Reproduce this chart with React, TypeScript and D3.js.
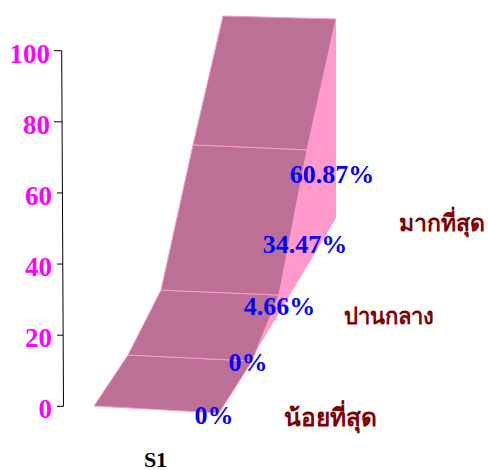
import React from "react";
import * as d3 from "d3";

const categories = ["น้อยที่สุด", "", "ปานกลาง", "", "มากที่สุด"];
const values = [0, 0, 4.66, 34.47, 60.87];
const valueLabels = ["0%", "0%", "4.66%", "34.47%", "60.87%"];
const ticks = [0, 20, 40, 60, 80, 100];
const seriesName = "S1";
const depthSteps = [0, 1, 2, 3, 4];

const W = 488, H = 470;
const FONT = "'Liberation Serif', 'Times New Roman', serif";

const y = d3.scaleLinear().domain([0, 100]).range([406.3, 50.7]);
// the axis is very slightly tilted by the 3D projection
const axisX = d3.scaleLinear().domain([0, 100]).range([63.5, 61.7]);
// perspective projection of the two floor edges, per depth step
const leftX = d3.scaleLinear().domain(depthSteps).range([94, 128, 161, 193, 223]);
const leftBase = d3.scaleLinear().domain(depthSteps).range([406, 355, 306, 260, 215]);
const rightX = d3.scaleLinear().domain(depthSteps).range([219, 252, 279, 307, 336]);
const rightBase = d3.scaleLinear().domain(depthSteps).range([413, 361, 311, 265, 218]);
const unitH = d3.scaleLinear().domain([0, 4]).range([3.55, 3.27]);

const lp = (k: number): [number, number] => [leftX(k), leftBase(k) - values[k] * unitH(k)];
const rp = (k: number): [number, number] => [rightX(k), rightBase(k) - values[k] * unitH(k)];
const line = d3.line();

const labelPos: [number, number][] = [[214, 424], [248, 371], [279.5, 315], [305, 253], [332, 183]];
const catPos: [number, number][] = [[330.5, 426], [0, 0], [389, 324], [0, 0], [441.5, 231]];
const catSize = [24.5, 0, 22, 0, 23];

export default function App() {
  const last = depthSteps[depthSteps.length - 1];
  const side: [number, number][] = [
    ...depthSteps.map(rp),
    [rightX(last), rightBase(last)],
    [rightX(0), rightBase(0)],
  ];
  return (
    <svg width={W} height={H} style={{ position: "absolute", left: 0, top: 0 }} fontFamily={FONT}>
      <path d={line(side)! + "Z"} fill="#FF99CC" />
      {depthSteps.slice(0, -1).map((k) => (
        <path
          key={k}
          d={line([lp(k), lp(k + 1), rp(k + 1), rp(k)])! + "Z"}
          fill="#BC7096"
          stroke="#FF99CC"
          strokeWidth={1}
        />
      ))}
      <line x1={axisX(100)} x2={axisX(0)} y1={y(100)} y2={y(0)} stroke="#000" strokeWidth={1} />
      {ticks.map((t) => (
        <g key={t}>
          <line x1={t >= 80 ? 54 : 57} x2={axisX(t)} y1={y(t)} y2={y(t)} stroke="#000" strokeWidth={1} />
          <text x={t >= 80 ? 50 : 52} y={y(t) + 12} textAnchor="end" fontSize={27} fontWeight="bold" fill="#FF00FF">{t}</text>
        </g>
      ))}
      {values.map((_, i) => (
        <text key={i} x={labelPos[i][0]} y={labelPos[i][1]} textAnchor="middle" fontSize={26} fontWeight="bold" fill="#0000FF">
          {valueLabels[i]}
        </text>
      ))}
      {categories.map((c, i) => c && (
        <text key={i} x={catPos[i][0]} y={catPos[i][1]} textAnchor="middle" fontSize={catSize[i]} fontWeight="bold" fill="#800000">{c}</text>
      ))}
      <text x={155.5} y={467} textAnchor="middle" fontSize={22} fontWeight="bold" fill="#000">{seriesName}</text>
    </svg>
  );
}
